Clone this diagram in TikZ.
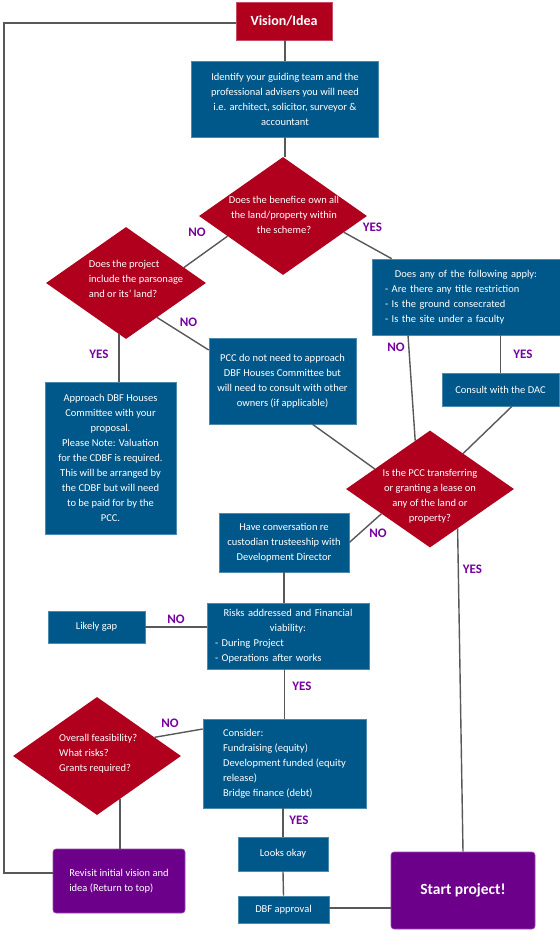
\documentclass[tikz,border=0pt]{standalone}
\usepackage{fontspec}
\setmainfont{Carlito}
\usepackage{tikz}
\usetikzlibrary{shapes.geometric, calc}
\definecolor{ideared}{RGB}{176,0,30}
\definecolor{stepblue}{RGB}{0,88,138}
\definecolor{endpurple}{RGB}{108,0,138}
\definecolor{answerpurple}{RGB}{118,0,160}
\definecolor{linkgray}{RGB}{88,88,88}

\begin{document}
\begin{tikzpicture}[x=1pt, y=-1pt, font=\fontsize{10.5}{15}\selectfont,
  bluebox/.style={rectangle, fill=stepblue, draw=stepblue!70!white, line width=0.6pt, text=white, inner sep=0pt, align=center},
  redbox/.style={rectangle, fill=ideared, draw=ideared!70!white, line width=0.6pt, text=white, inner sep=0pt},
  purplebox/.style={rectangle, rounded corners=3pt, fill=endpurple, draw=endpurple!70!white, line width=0.6pt, text=white, inner sep=0pt},
  decision/.style={diamond, fill=ideared, inner sep=0pt},
  dtext/.style={text=white, align=center, inner sep=0pt},
  answer/.style={text=answerpurple, font=\fontsize{13}{13}\selectfont\bfseries, inner sep=0pt},
  link/.style={draw=linkgray, line width=1.4pt}]
  \useasboundingbox (0,0) rectangle (560,930);

  \node[redbox, minimum width=96, minimum height=38, font=\fontsize{14}{14}\selectfont\bfseries] (vision) at (284,21) {Vision/Idea};
  \node[bluebox, minimum width=187, minimum height=76] (ident) at (285,99) {Identify your guiding team and the\\professional advisers you will need\\i.e. architect, solicitor, surveyor \&\\accountant};

  \node[decision, minimum width=168, minimum height=118] (d1) at (283,216) {};
  \node[dtext] (d1t) at (284,215) {Does the benefice own all\\the land/property within\\the scheme?};
  \node[decision, minimum width=160, minimum height=112] (d2) at (126,283) {};
  \node[dtext, align=left, anchor=west] (d2t) at (88.6,279) {Does the project\\include the parsonage\\and or its' land?};

  \node[bluebox, minimum width=188, minimum height=76, text width=162, align=left] (apply) at (466,297) {\makebox[162pt][c]{Does any of the following apply:}\\- Are there any title restriction\\- Is the ground consecrated\\- Is the site under a faculty};
  \node[bluebox, minimum width=147, minimum height=86] (pcc) at (282.5,381) {PCC do not need to approach\\DBF Houses Committee but\\will need to consult with other\\owners (if applicable)};
  \node[bluebox, minimum width=131, minimum height=152] (approach) at (110.5,458) {Approach DBF Houses\\Committee with your\\proposal.\\Please Note: Valuation\\for the CDBF is required.\\This will be arranged by\\the CDBF but will need\\to be paid for by the\\PCC.};
  \node[bluebox, minimum width=117, minimum height=33] (dac) at (500.5,389.5) {Consult with the DAC};

  \node[decision, minimum width=168, minimum height=117] (d3) at (430,489) {};
  \node[dtext] (d3t) at (430,496) {Is the PCC transferring\\or granting a lease on\\any of the land or\\property?};
  \node[bluebox, minimum width=130, minimum height=59] (convo) at (284,542.5) {Have conversation re\\custodian trusteeship with\\Development Director};

  \node[bluebox, minimum width=162, minimum height=66, text width=146, align=left] (risks) at (288,636) {\makebox[146pt][c]{Risks addressed and Financial}\\\makebox[146pt][c]{viability:}\\- During Project\\- Operations after works};
  \node[bluebox, minimum width=97, minimum height=32] (gap) at (96.5,627) {Likely gap};
  \node[bluebox, minimum width=163, minimum height=89, align=left] (consider) at (284.5,763.5) {Consider:\\Fundraising (equity)\\Development funded (equity\\release)\\Bridge finance (debt)};
  \node[decision, minimum width=168, minimum height=118] (d4) at (97,756) {};
  \node[dtext, align=left, anchor=west] (d4t) at (59,754) {Overall feasibility?\\What risks?\\Grants required?};

  \node[purplebox, minimum width=132, minimum height=64, align=left] (revisit) at (119,881) {Revisit initial vision and\\idea (Return to top)};
  \node[bluebox, minimum width=90, minimum height=34] (okay) at (283,854) {Looks okay};
  \node[bluebox, minimum width=91, minimum height=27] (approval) at (283.5,909.5) {DBF approval};
  \node[purplebox, minimum width=144, minimum height=77, font=\fontsize{15.5}{15.5}\selectfont\bfseries] (start) at (463,890.5) {Start project!};

  \node[answer] (no1) at (197,232) {NO};
  \node[answer] (yes1) at (372.5,227) {YES};
  \node[answer] (no2) at (188.6,322.7) {NO};
  \node[answer] (yes2) at (99,354) {YES};
  \node[answer] (no3) at (396,347) {NO};
  \node[answer] (yes3) at (523,354) {YES};
  \node[answer] (no4) at (378,533) {NO};
  \node[answer] (yes4) at (472.5,569) {YES};
  \node[answer] (no5) at (176,619) {NO};
  \node[answer] (yes5) at (302,686) {YES};
  \node[answer] (no6) at (170,723) {NO};
  \node[answer] (yes6) at (299,820) {YES};

  \coordinate (loop) at (4,23);
  \draw[link] ([yshift=-2pt]vision.west) -- (loop) |- ([yshift=8pt]revisit.west);
  \draw[link] (vision.south -| ident.north) -- (ident.north);
  \draw[link] (ident.south) -- (ident.south |- d1.north);
  \draw[link] (d1.200) -- (d2.15);
  \draw[link] (d1.-15) -- ([xshift=20pt]apply.north west);
  \draw[link] (d2.-48) -- ([yshift=31pt]pcc.west);
  \draw[link] (d2.-98) -- (d2.-98 |- approach.north);
  \draw[link] ([xshift=30pt]pcc.south) -- (d3.160);
  \draw[link] ([xshift=-58pt]apply.south) -- (d3.107);
  \draw[link] (apply.south -| dac.north) -- (dac.north);
  \draw[link] ([xshift=11.5pt]dac.south) -- (d3.47);
  \draw[link] (d3.207) -- (convo.east);
  \draw[link] (d3.-55) -- (start.north);
  \draw[link] (convo.south) -- (convo.south |- risks.north);
  \draw[link] (gap.east) -- (gap.east -| risks.west);
  \draw[link] (consider.north |- risks.south) -- (consider.north);
  \draw[link] ([yshift=34.5pt]consider.west) -- (d4.18);
  \draw[link] (d4.-62) -- (d4.-62 |- revisit.north);
  \draw[link] (consider.south -| okay.north) -- (okay.north);
  \draw[link] (okay.south) -- (approval.north);
  \draw[link] ([yshift=1.5pt]approval.east) -- ([yshift=1.5pt]approval.east -| start.west);
\end{tikzpicture}
\end{document}
